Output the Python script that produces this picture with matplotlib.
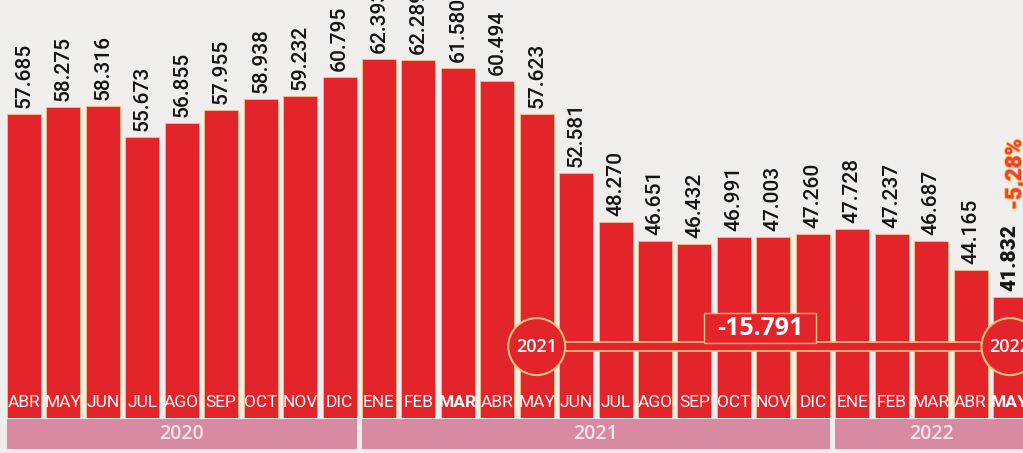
import numpy as np
import matplotlib.pyplot as plt
from matplotlib.patches import Rectangle, Ellipse
import matplotlib.patheffects as pe

# afiliados (miles) abril 2020 - mayo 2022
months = ['ABR', 'MAY', 'JUN', 'JUL', 'AGO', 'SEP', 'OCT', 'NOV', 'DIC',
          'ENE', 'FEB', 'MAR', 'ABR', 'MAY', 'JUN', 'JUL', 'AGO', 'SEP', 'OCT', 'NOV', 'DIC',
          'ENE', 'FEB', 'MAR', 'ABR', 'MAY']
years = ['2020'] * 9 + ['2021'] * 12 + ['2022'] * 5
values = [57.685, 58.275, 58.316, 55.673, 56.855, 57.955, 58.938, 59.232, 60.795,
          62.393, 62.289, 61.580, 60.494, 57.623, 52.581, 48.270, 46.651, 46.432,
          46.991, 47.003, 47.260,
          47.728, 47.237, 46.687, 44.165, 41.832]
bold_months = [11, 25]

RED = '#e3252b'
EDGE = '#f4c27e'
BG = '#efeeec'
FONT = 'Roboto'

W, H = 1023, 453
fig = plt.figure(figsize=(W / 100, H / 100), dpi=100)
fig.patch.set_facecolor(BG)

base_px = 418
ax = fig.add_axes([0, (H - base_px) / H, 1, base_px / H])
ax.set_facecolor(BG)
x = np.arange(len(values))
ax.bar(x, values, width=0.862, color=RED, edgecolor=EDGE, linewidth=0.6, zorder=2)
ax.set_xlim(-0.6085, 25.33)
ax.set_ylim(31.38, 67.49)
ax.axis('off')

# value labels
for i, v in enumerate(values):
    last = i == len(values) - 1
    ax.annotate(f"{v:.3f}", (i, v), xytext=(0, 6), textcoords='offset pixels',
                rotation=90, ha='center', va='bottom', fontsize=15,
                family=FONT, fontweight='heavy' if last else 'medium',
                color='#141414', annotation_clip=False)

# month labels inside bars
tr = ax.get_xaxis_transform()
for i, m in enumerate(months):
    ax.text(i, 0.036, m, transform=tr, ha='center', va='center', fontsize=12.5,
            family=FONT, color='white',
            fontweight='bold' if i in bold_months else 'normal', zorder=5)

# change May 2021 -> May 2022
i0, i1 = 13, 25
diff = values[i1] - values[i0]
yline = 37.55
ax.add_patch(Rectangle((i0, yline - 0.39), i1 - i0, 0.78, facecolor=RED,
                       edgecolor=EDGE, linewidth=1.2, zorder=4))
for i in (i0, i1):
    ax.add_patch(Ellipse((i, yline), 1.445, 4.92, facecolor=RED, edgecolor=EDGE,
                         linewidth=1.5, zorder=5))
    ax.text(i, yline, years[i], ha='center', va='center', fontsize=13,
            family='Open Sans', fontweight='semibold', color='white', zorder=6)
xm = 18.66
ax.add_patch(Rectangle((xm - 1.42, 37.86), 2.84, 2.59, facecolor=RED,
                       edgecolor=EDGE, linewidth=1.0, zorder=5))
ax.text(xm, 39.15, f"{diff:.3f}", ha='center', va='center', fontsize=18,
        family='Open Sans', fontweight='bold', color='white', zorder=6)

# last month change
pct = (values[-1] - values[-2]) / values[-2] * 100
ax.annotate(f"{pct:.2f}%".replace('.', ','), (len(values) - 1, values[-1]),
            xytext=(5, 87), textcoords='offset pixels', rotation=90,
            ha='center', va='bottom', fontsize=16, family=FONT,
            fontweight='heavy', color='#ef3f3a', annotation_clip=False,
            path_effects=[pe.withStroke(linewidth=1.2, foreground='#f7c24a')])

# year band
bax = fig.add_axes([0, 4 / H, 1, 30 / H], sharex=ax)
bax.set_facecolor(BG)
bax.set_ylim(0, 1)
bax.axis('off')
for yr in ['2020', '2021', '2022']:
    idx = [i for i, y in enumerate(years) if y == yr]
    lo, hi = idx[0] - 0.5, idx[-1] + 0.5
    bax.add_patch(Rectangle((lo + 0.06, 0), hi - lo - 0.12, 1,
                            facecolor='#d98aa3', edgecolor='none'))
    bax.text((idx[0] + idx[-1]) / 2, 0.5, yr, ha='center', va='center',
             fontsize=14, family='Open Sans', fontweight='semibold', color='#f6e6ec')

fig.savefig('out.png', dpi=100, facecolor=BG)
